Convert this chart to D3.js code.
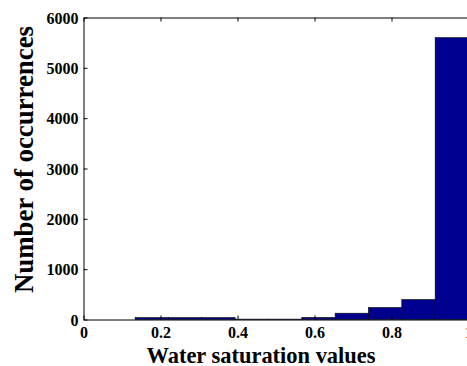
<!DOCTYPE html>
<html><head><meta charset="utf-8">
<script src="https://cdn.jsdelivr.net/npm/d3@7"></script>
<style>body{margin:0;background:#fff}svg{display:block}text{font-family:"Liberation Serif","Times New Roman",serif;font-weight:bold;fill:#000}</style>
</head><body><svg id="c" width="467" height="366"></svg>
<script>
const binStarts = [0.134, 0.2206, 0.3072, 0.3938, 0.4804, 0.567, 0.6536, 0.7402, 0.8268, 0.9134];
const binEnds   = [0.2206, 0.3072, 0.3938, 0.4804, 0.567, 0.6536, 0.7402, 0.8268, 0.9134, 1.0];
const counts    = [38, 38, 38, 8, 8, 40, 125, 238, 396, 5600];
const xTicks = [0, 0.2, 0.4, 0.6, 0.8, 1];
const xTickLabels = ["0", "0.2", "0.4", "0.6", "0.8", "1"];
const yTicks = [0, 1000, 2000, 3000, 4000, 5000, 6000];

const svg = d3.select("#c");
const x = d3.scaleLinear().domain([0, 1]).range([83.5, 468.5]);
const y = d3.scaleLinear().domain([0, 6000]).range([319.5, 17.5]);

// bars
svg.append("g").selectAll("rect").data(counts).join("rect")
  .attr("x", (d, i) => x(binStarts[i]))
  .attr("width", (d, i) => x(binEnds[i]) - x(binStarts[i]))
  .attr("y", d => y(d))
  .attr("height", d => y(0) - y(d))
  .attr("fill", "#00008F").attr("stroke", "#000").attr("stroke-width", 0.6);

// axes box
const gx = svg.append("g").attr("transform", `translate(0,${y(0)})`)
  .call(d3.axisBottom(x).tickValues(xTicks).tickFormat((d, i) => xTickLabels[i]).tickSizeInner(-4).tickSizeOuter(0).tickPadding(7));
const gxt = svg.append("g").attr("transform", `translate(0,${y(6000)})`)
  .call(d3.axisTop(x).tickValues(xTicks).tickFormat("").tickSizeInner(-4).tickSizeOuter(0));
const gy = svg.append("g").attr("transform", `translate(${x(0)},0)`)
  .call(d3.axisLeft(y).tickValues(yTicks).tickFormat(d3.format("d")).tickSizeInner(-4).tickSizeOuter(0).tickPadding(5));
[gx, gxt, gy].forEach(g => {
  g.selectAll("path,line").attr("stroke", "#000").attr("stroke-width", 1);
  g.selectAll("text").style("font-size", "16px").style("font-family", "Liberation Serif").style("font-weight", "bold");
});
gx.selectAll("text").attr("dy", "0.71em");
gy.selectAll("text").attr("dy", "0.35em");

svg.append("text").attr("x", 261).attr("y", 363).attr("text-anchor", "middle")
  .attr("textLength", 229).attr("lengthAdjust", "spacingAndGlyphs")
  .style("font-size", "23.5px").text("Water saturation values");
svg.append("text").attr("transform", "translate(33,159.5) rotate(-90)").attr("text-anchor", "middle")
  .attr("textLength", 267).attr("lengthAdjust", "spacingAndGlyphs")
  .style("font-size", "26.5px").text("Number of occurrences");
</script></body></html>
